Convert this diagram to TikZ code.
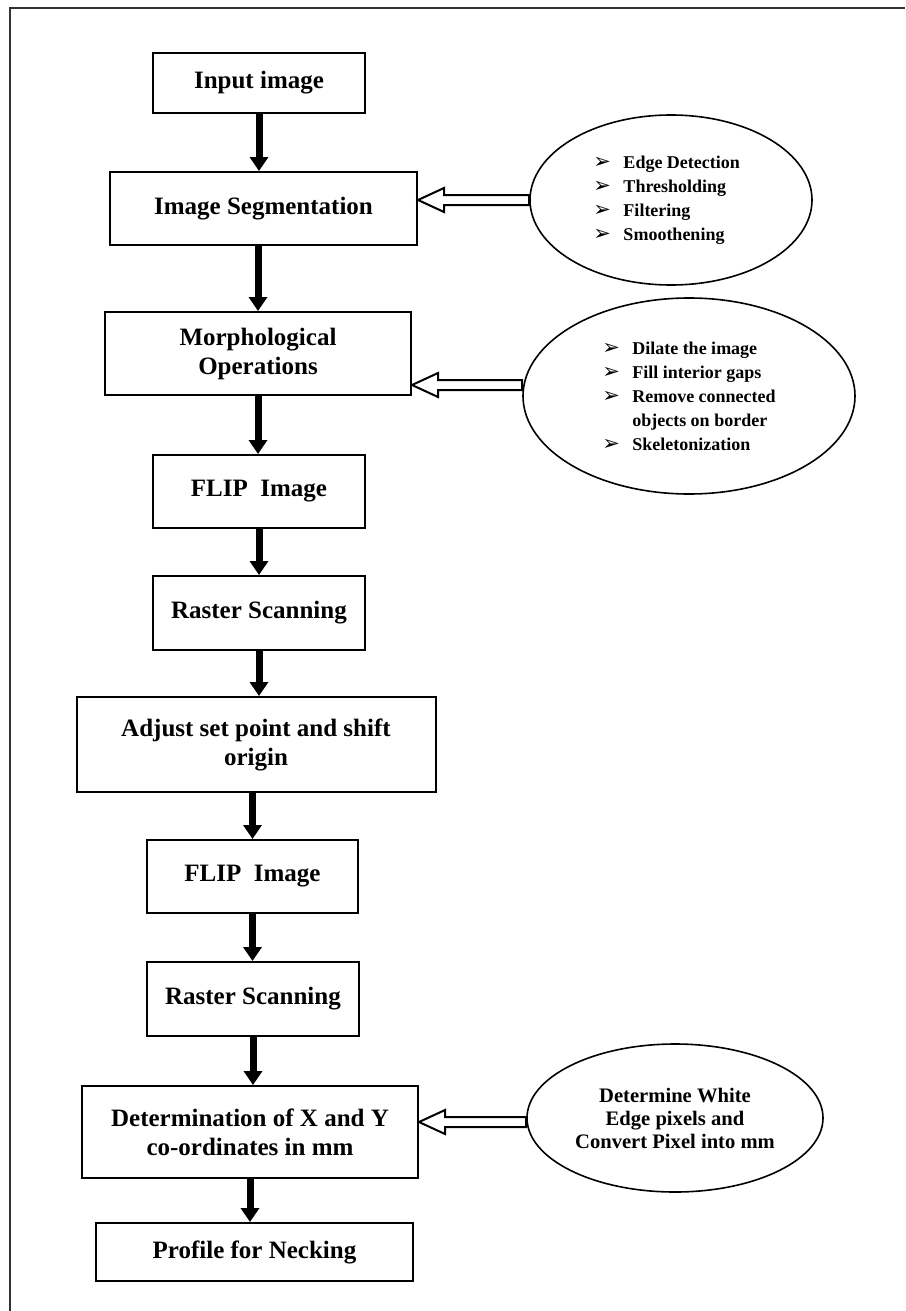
\documentclass[tikz,border=0pt]{standalone}
\usepackage{fontspec}
\setmainfont{Liberation Serif}
\newfontfamily\arrowfont{DejaVu Sans}
\usetikzlibrary{arrows.meta,shapes.geometric,calc}

\tikzset{
    stage/.style={draw, line width=1pt, align=center, inner sep=0pt,
        font=\bfseries\fontsize{12.5}{14.5}\selectfont},
    note/.style={draw, ellipse, line width=0.8pt, inner sep=0pt, align=left,
        font=\bfseries\fontsize{9}{12}\selectfont},
    flow/.style={line width=3.5pt, -{Triangle[width=9pt,length=7pt]}},
    hollow/.style={line width=1pt, fill=white, line join=miter},
}
\newcommand{\bul}{\makebox[15pt][l]{\arrowfont\fontsize{10.5}{12}\selectfont ➢}}
% tip, tail
\newcommand{\hollowarrow}[2]{%
    \draw[hollow] (#1) -- ++(26,-12) -- ++(0,7) -- ($(#2)+(0,-5)$) -- ++(0,10)
        -- ($(#1)+(26,5)$) -- ++(0,7) -- cycle;}

\begin{document}
\begin{tikzpicture}[x=0.5pt, y=-0.5pt]
    \useasboundingbox (0,0) rectangle (905,1311);
    \draw[line width=1pt, black!80] (10,1311) -- (10,8) -- (905,8);

    \node[stage, minimum width=106pt, minimum height=30pt] (input) at (259,83) {Input image};
    \node[stage, minimum width=153.5pt, minimum height=36.5pt] (seg) at (263.5,208.5) {Image Segmentation};
    \node[stage, minimum width=153pt, minimum height=41.5pt] (morph) at (258,353.5) {Morphological\\Operations};
    \node[stage, minimum width=106pt, minimum height=36.5pt] (flip1) at (259,491.5) {FLIP\ \ Image};
    \node[stage, minimum width=106pt, minimum height=37pt] (scan1) at (259,613) {Raster Scanning};
    \node[stage, minimum width=179.5pt, minimum height=47.5pt] (adjust) at (256,744.5) {Adjust set point and shift\\origin};
    \node[stage, minimum width=105.5pt, minimum height=36.5pt] (flip2) at (252.5,876.5) {FLIP\ \ Image};
    \node[stage, minimum width=106pt, minimum height=37pt] (scan2) at (253,999) {Raster Scanning};
    \node[stage, minimum width=168pt, minimum height=46pt] (coord) at (250,1132) {Determination of X and Y\\co-ordinates in mm};
    \node[stage, minimum width=158.5pt, minimum height=29pt] (profile) at (254.5,1252) {Profile for Necking};

    \draw[flow] (input.south) -- (input.south |- seg.north);
    \draw[flow] (seg.south -| morph.north) -- (morph.north);
    \draw[flow] (morph.south) -- (morph.south |- flip1.north);
    \draw[flow] (flip1.south) -- (flip1.south |- scan1.north);
    \draw[flow] (scan1.south) -- (scan1.south |- adjust.north);
    \draw[flow] (adjust.south -| flip2.north) -- (flip2.north);
    \draw[flow] (flip2.south) -- (flip2.south |- scan2.north);
    \draw[flow] (scan2.south) -- (scan2.south |- coord.north);
    \draw[flow] (coord.south) -- (coord.south |- profile.north);

    \node[note, minimum width=141pt, minimum height=85pt] (segnote) at (671,200)
        {\bul Edge Detection\\\bul Thresholding\\\bul Filtering\\\bul Smoothening\hspace*{12pt}};
    \node[note, minimum width=166pt, minimum height=98pt] (morphnote) at (689,396)
        {\bul Dilate the image\\\bul Fill interior gaps\\\bul Remove connected\hspace*{8pt}\\\hspace*{15pt}objects on border\\\bul Skeletonization};
    \node[note, align=center, minimum width=148pt, minimum height=74pt,
        font=\bfseries\fontsize{10.3}{11.5}\selectfont] (coordnote) at (675,1118)
        {Determine White\\Edge pixels and\\Convert Pixel into mm};

    \coordinate (segtip) at (seg.east |- segnote.west);
    \coordinate (morphtip) at ($(morph.south east)+(0,-11)$);
    \coordinate (coordtip) at ($(coord.east)+(0,-10)$);
    \hollowarrow{segtip}{segnote.west |- segtip}
    \hollowarrow{morphtip}{morphnote.west |- morphtip}
    \hollowarrow{coordtip}{coordnote.west |- coordtip}
\end{tikzpicture}
\end{document}
